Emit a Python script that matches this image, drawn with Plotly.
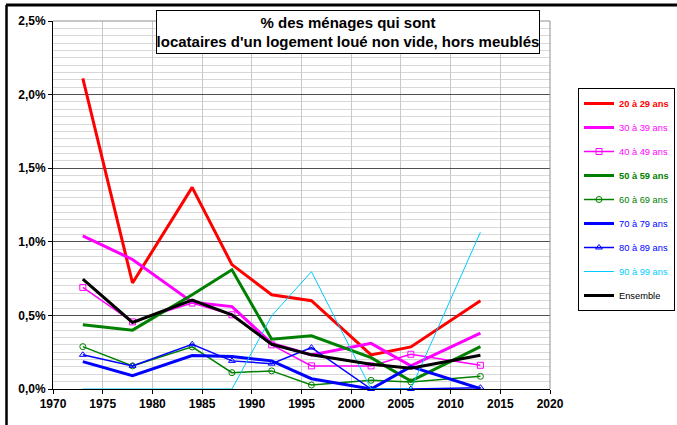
import plotly.graph_objects as go

years = [1973, 1978, 1984, 1988, 1992, 1996, 2002, 2006, 2013]

v20_29 = [2.11, 0.72, 1.37, 0.845, 0.64, 0.60, 0.232, 0.286, 0.60]
v30_39 = [1.04, 0.88, 0.59, 0.56, 0.31, 0.232, 0.31, 0.157, 0.38]
v40_49 = [0.69, 0.456, 0.584, 0.504, 0.30, 0.157, 0.157, 0.236, 0.161]
v50_59 = [0.436, 0.40, 0.64, 0.81, 0.338, 0.361, 0.213, 0.054, 0.288]
v60_69 = [0.288, 0.157, 0.286, 0.111, 0.123, 0.027, 0.059, 0.048, 0.086]
v70_79 = [0.186, 0.091, 0.227, 0.22, 0.191, 0.07, 0.0, 0.152, 0.002]
v80_89 = [0.232, 0.157, 0.304, 0.191, 0.172, 0.281, 0.0, 0.0, 0.009]
v90_99 = [0.0, 0.0, 0.0, 0.0, 0.497, 0.797, 0.0, 0.0, 1.065]
ensemble = [0.747, 0.452, 0.604, 0.504, 0.304, 0.232, 0.168, 0.141, 0.229]

x_ticks = [1970, 1975, 1980, 1985, 1990, 1995, 2000, 2005, 2010, 2015, 2020]
y_ticks = [0.0, 0.005, 0.01, 0.015, 0.02, 0.025]
y_tick_labels = ["0,0%", "0,5%", "1,0%", "1,5%", "2,0%", "2,5%"]

series = [
    ("20 à 29 ans", v20_29, "#FF0000", 3, None, True),
    ("30 à 39 ans", v30_39, "#FF00FF", 3, None, False),
    ("40 à 49 ans", v40_49, "#FF00FF", 1.5, "square-open", False),
    ("50 à 59 ans", v50_59, "#008000", 3, None, True),
    ("60 à 69 ans", v60_69, "#008000", 1.5, "circle-open", False),
    ("70 à 79 ans", v70_79, "#0000FF", 3, None, False),
    ("80 à 89 ans", v80_89, "#0000FF", 1.5, "triangle-up-open", False),
    ("90 à 99 ans", v90_99, "#00CCFF", 1, None, False),
    ("Ensemble", ensemble, "#000000", 3, None, False),
]

FONT = "Liberation Sans, Arial, sans-serif"

fig = go.Figure()
for i, (name, vals, color, width, marker, bold) in enumerate(series):
    label = f"<b>{name}</b>" if bold else name
    label = f'<span style="color:{color}">{label}</span>'
    fig.add_trace(go.Scatter(
        x=years, y=[v / 100 for v in vals],
        mode="lines+markers" if marker else "lines",
        name=label,
        legendgroup=f"g{i}",
        line=dict(color=color, width=width),
        marker=dict(symbol=marker or "circle", size=6, color=color,
                    line=dict(color=color, width=1)),
        cliponaxis=False,
    ))

L, R, T, B = 53, 127, 21, 36
W, H = 677, 425
pw, ph = W - L - R, H - T - B

def px(x):
    return (x - L) / pw

def py(y):
    return (H - B - y) / ph

fig.update_layout(
    width=W, height=H,
    margin=dict(l=L, r=R, t=T, b=B, autoexpand=False),
    paper_bgcolor="white", plot_bgcolor="white",
    font=dict(family=FONT, size=12, color="black"),
    showlegend=True,
    legend=dict(
        x=px(578), y=py(88), xanchor="left", yanchor="top",
        bordercolor="black", borderwidth=1, bgcolor="white",
        font=dict(family=FONT, size=9.3),
        tracegroupgap=5, itemwidth=30,
    ),
    xaxis=dict(
        range=[1970, 2020],
        tickvals=x_ticks, ticktext=[f"<b>{t}</b>" for t in x_ticks],
        showgrid=True, gridcolor="#C8C8C8", gridwidth=1,
        showline=True, linecolor="black", linewidth=1,
        ticks="outside", ticklen=4, tickcolor="black",
        tickfont=dict(family=FONT, size=12, color="black"),
        zeroline=False,
    ),
    yaxis=dict(
        range=[0, 0.025],
        tickvals=y_ticks, ticktext=[f"<b>{t}</b>" for t in y_tick_labels],
        showgrid=True, gridcolor="#505050", gridwidth=1,
        minor=dict(dtick=0.0005, tick0=0, showgrid=True, gridcolor="#D8D8D8", gridwidth=1),
        showline=True, linecolor="black", linewidth=1,
        ticks="outside", ticklen=4, tickcolor="black",
        tickfont=dict(family=FONT, size=12, color="black"),
        zeroline=False,
    ),
    annotations=[dict(
        xref="paper", yref="paper",
        x=px(348), y=py(32), xanchor="center", yanchor="middle",
        text="<b>% des ménages qui sont<br>locataires d'un logement loué non vide, hors meublés</b>",
        showarrow=False, align="center",
        font=dict(family=FONT, size=15, color="black"),
        bordercolor="black", borderwidth=1, borderpad=0, bgcolor="white",
        width=382, height=42,
    )],
    shapes=[
        dict(type="line", xref="paper", yref="paper", x0=1, x1=1, y0=0, y1=1,
             line=dict(color="#909090", width=1)),
        dict(type="line", xref="paper", yref="paper", x0=0, x1=1, y0=1, y1=1,
             line=dict(color="#909090", width=1)),
        dict(type="line", xref="paper", yref="paper", x0=px(6), x1=px(677),
             y0=py(5), y1=py(5), line=dict(color="black", width=3)),
        dict(type="line", xref="paper", yref="paper", x0=px(6.5), x1=px(6.5),
             y0=py(5), y1=py(425), line=dict(color="black", width=2.5)),
    ],
)

fig.write_html("out.html", config={"displayModeBar": False},
               post_script="document.body.style.margin='0';")
